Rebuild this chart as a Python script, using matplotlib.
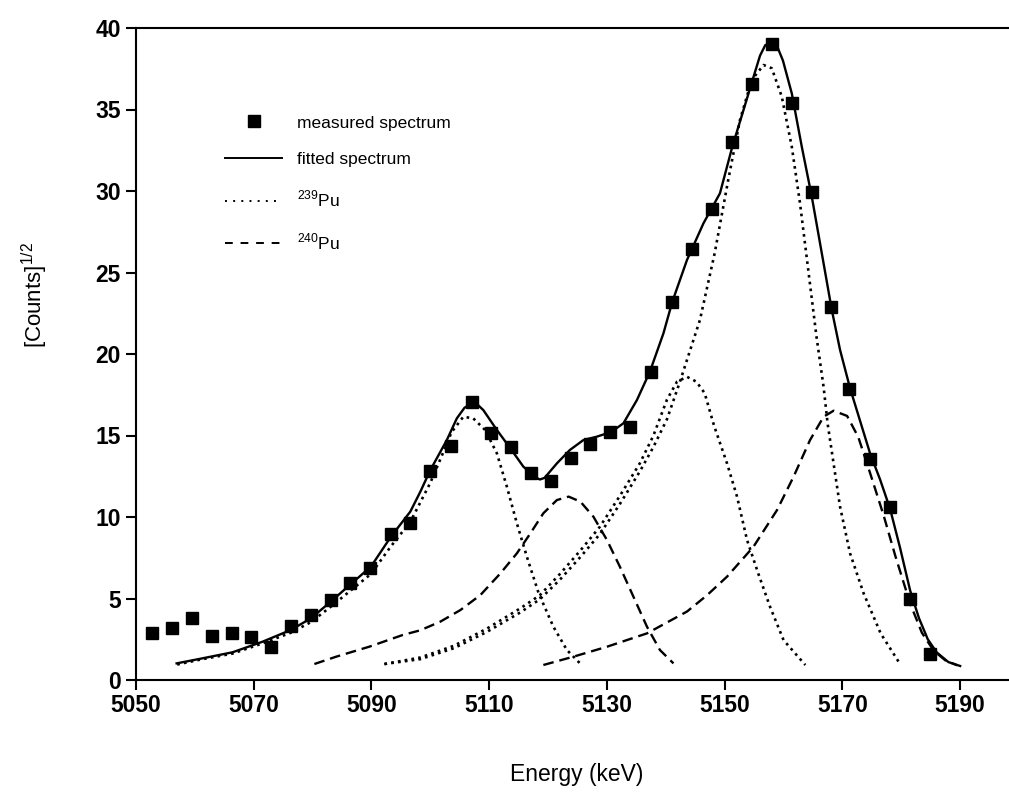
import matplotlib
matplotlib.use("Agg")
import matplotlib.pyplot as plt

plt.rcParams['font.family'] = ['Liberation Sans', 'DejaVu Sans']

# measured spectrum (squares)
meas_E = [5052.7, 5056.1, 5059.5, 5062.9, 5066.3, 5069.5, 5072.9, 5076.3, 5079.7, 5083.1,
          5086.4, 5089.8, 5093.3, 5096.6, 5100.0, 5103.5, 5107.0, 5110.3, 5113.7, 5117.1,
          5120.5, 5123.9, 5127.2, 5130.6, 5134.0, 5137.5, 5141.1, 5144.5, 5147.9, 5151.3,
          5154.7, 5158.1, 5161.4, 5164.8, 5168.1, 5171.2, 5174.7, 5178.1, 5181.4, 5184.9]
meas_V = [2.90, 3.21, 3.78, 2.70, 2.86, 2.66, 2.04, 3.31, 3.99, 4.91,
          5.93, 6.89, 8.94, 9.61, 12.82, 14.36, 17.08, 15.13, 14.31, 12.72,
          12.21, 13.64, 14.48, 15.23, 15.50, 18.90, 23.20, 26.42, 28.88, 33.03,
          36.55, 39.00, 35.42, 29.92, 22.90, 17.85, 13.56, 10.63, 4.97, 1.60]

# fitted spectrum (solid)
fit_E = [5056.9, 5061.3, 5066.4, 5071.5, 5076.3, 5079.7, 5083.1, 5086.5, 5089.9, 5093.3,
         5096.6, 5098.3, 5100.0, 5102.8, 5104.5, 5105.8, 5107.0, 5108.0, 5109.0, 5111.3,
         5113.6, 5115.8, 5117.8, 5118.6, 5119.4, 5121.5, 5123.7, 5126.0, 5128.3, 5130.8,
         5132.8, 5135.1, 5137.3, 5139.6, 5141.1, 5143.6, 5146.4, 5149.2, 5151.3, 5153.2,
         5154.9, 5156.0, 5156.9, 5158.1, 5159.0, 5159.9, 5161.4, 5163.1, 5164.8, 5166.5,
         5168.2, 5169.6, 5171.3, 5174.7, 5176.4, 5178.1, 5179.8, 5181.5, 5183.0, 5184.5,
         5186.0, 5188.0, 5190.0]
fit_V = [1.02, 1.33, 1.70, 2.35, 3.07, 3.78, 4.81, 5.89, 6.95, 8.79,
         10.33, 11.55, 12.88, 14.72, 16.05, 16.70, 16.97, 16.90, 16.56, 15.34,
         14.21, 13.09, 12.45, 12.30, 12.40, 13.29, 14.11, 14.72, 14.93, 15.23,
         15.75, 17.18, 18.92, 21.27, 23.20, 25.77, 28.02, 29.86, 32.72, 34.97,
         37.00, 38.30, 38.95, 39.10, 38.80, 38.00, 35.99, 32.72, 29.65, 26.18,
         22.70, 20.25, 17.90, 13.90, 12.30, 10.50, 8.10, 5.50, 3.80, 2.50,
         1.70, 1.10, 0.86]

# 239Pu components (dotted)
pu239a_E = [5057.0, 5061.3, 5066.4, 5071.5, 5076.3, 5079.7, 5083.1, 5086.5, 5089.9, 5093.3,
            5096.6, 5100.0, 5102.0, 5103.6, 5105.6, 5107.3, 5109.3, 5111.3, 5113.0, 5114.7,
            5116.4, 5118.4, 5120.9, 5123.2, 5125.7]
pu239a_V = [0.95, 1.28, 1.62, 2.25, 2.90, 3.55, 4.50, 5.50, 6.50, 8.20,
            9.70, 12.10, 13.80, 15.20, 16.15, 16.05, 15.34, 13.91, 11.86, 9.61,
            7.56, 5.32, 3.27, 1.84, 0.92]

pu239b_E = [5092.2, 5098.3, 5104.0, 5109.6, 5115.3, 5118.6, 5122.0, 5125.5, 5128.8, 5132.2,
            5135.6, 5137.9, 5140.2, 5141.9, 5143.6, 5145.2, 5146.6, 5148.2, 5150.4, 5152.1,
            5153.8, 5155.7, 5157.7, 5160.0, 5163.7]
pu239b_V = [0.98, 1.38, 2.10, 3.15, 4.40, 5.20, 6.50, 7.95, 9.40, 11.30,
            13.30, 15.00, 17.20, 18.30, 18.60, 18.30, 17.60, 15.60, 13.29, 11.25,
            8.59, 6.54, 4.50, 2.45, 0.92]

pu239c_E = [5092.2, 5098.3, 5104.0, 5109.6, 5115.3, 5118.6, 5122.0, 5125.5, 5128.8, 5132.2,
            5135.6, 5137.9, 5140.2, 5142.4, 5145.8, 5148.3, 5150.6, 5152.6, 5154.6, 5156.6,
            5158.0, 5159.7, 5161.4, 5162.8, 5164.2, 5165.6, 5166.8, 5167.5, 5168.5, 5169.6,
            5171.3, 5173.6, 5176.5, 5179.9]
pu239c_V = [0.98, 1.28, 1.95, 2.95, 4.15, 4.95, 6.15, 7.55, 8.95, 10.80,
            12.80, 14.30, 16.00, 18.30, 22.09, 26.18, 30.67, 34.36, 36.81, 37.73,
            37.53, 35.79, 32.72, 29.24, 25.15, 21.06, 17.99, 15.70, 13.29, 10.63,
            7.77, 5.32, 2.86, 0.92]

# 240Pu components (dashed)
pu240a_E = [5080.3, 5084.0, 5089.6, 5095.3, 5098.3, 5101.7, 5105.1, 5108.5, 5111.9, 5114.7,
            5117.0, 5119.2, 5121.5, 5123.5, 5125.5, 5127.7, 5130.0, 5132.2, 5134.5, 5136.8,
            5139.0, 5141.3]
pu240a_V = [0.98, 1.43, 2.04, 2.76, 3.05, 3.58, 4.29, 5.21, 6.54, 7.77,
            9.00, 10.23, 11.04, 11.25, 10.94, 10.02, 8.59, 6.95, 5.11, 3.27,
            1.84, 1.02]

pu240b_E = [5119.2, 5124.3, 5130.0, 5136.8, 5143.6, 5147.0, 5150.4, 5154.9, 5158.9, 5161.7,
            5164.5, 5166.8, 5168.5, 5170.8, 5172.7, 5174.7, 5177.0, 5179.0, 5181.5, 5183.5,
            5185.5, 5187.5, 5189.5]
pu240b_V = [0.92, 1.43, 2.04, 2.86, 4.20, 5.20, 6.34, 8.18, 10.43, 12.47,
            14.72, 16.15, 16.52, 16.20, 14.90, 12.70, 10.10, 7.60, 4.70, 2.90,
            1.80, 1.20, 0.90]

x_ticks = [5050, 5070, 5090, 5110, 5130, 5150, 5170, 5190]
y_ticks = [0, 5, 10, 15, 20, 25, 30, 35, 40]

fig = plt.figure(figsize=(10.09, 7.97), dpi=100)
ax = fig.add_axes([136 / 1009, 1 - 680 / 797, 873 / 1009, 652 / 797])

dot = (0, (1, 1.6))
dash = (0, (4.5, 2.5))

ax.plot(pu239a_E, pu239a_V, color='black', lw=1.9, ls=dot)
ax.plot(pu239b_E, pu239b_V, color='black', lw=1.9, ls=dot)
ax.plot(pu239c_E, pu239c_V, color='black', lw=1.9, ls=dot)
ax.plot(pu240a_E, pu240a_V, color='black', lw=1.7, ls=dash)
ax.plot(pu240b_E, pu240b_V, color='black', lw=1.7, ls=dash)
ax.plot(fit_E, fit_V, color='black', lw=1.7, solid_joinstyle='round')
ax.plot(meas_E, meas_V, 's', color='black', ms=8.5, ls='none')

# legend built from proxy handles
h1, = ax.plot([], [], 's', color='black', ms=8.5, ls='none')
h2, = ax.plot([], [], color='black', lw=1.4)
h3, = ax.plot([], [], color='black', lw=1.4, ls=(0, (1, 3.2)))
h4, = ax.plot([], [], color='black', lw=1.4, ls=(0, (4, 4)))
ax.legend([h1, h2, h3, h4],
          ['measured spectrum', 'fitted spectrum',
           '$^{\\mathregular{239}}$Pu', '$^{\\mathregular{240}}$Pu'],
          loc='upper left', bbox_to_anchor=(0.102, 0.866), frameon=False,
          fontsize=12.5, handlelength=3.3, handletextpad=0.85, labelspacing=1.25,
          borderpad=0, borderaxespad=0)

ax.set_xlim(5050, 5198.3)
ax.set_ylim(0, 40)
ax.set_xticks(x_ticks)
ax.set_yticks(y_ticks)
ax.tick_params(direction='out', length=7, width=1.5, labelsize=16.5)
for lab in ax.get_xticklabels() + ax.get_yticklabels():
    lab.set_fontweight('bold')
ax.tick_params(axis='x', pad=3)
ax.tick_params(axis='y', pad=4)

ax.spines['right'].set_visible(False)
for s in ['left', 'bottom', 'top']:
    ax.spines[s].set_linewidth(1.5)

ax.set_xlabel('Energy (keV)', fontsize=16.5)
ax.xaxis.set_label_coords(0.505, -0.128)
ax.set_ylabel('[Counts]$^{\\mathregular{1/2}}$', fontsize=16)
ax.yaxis.set_label_coords(-0.098, 0.59)

fig.savefig('out.png', dpi=100)
